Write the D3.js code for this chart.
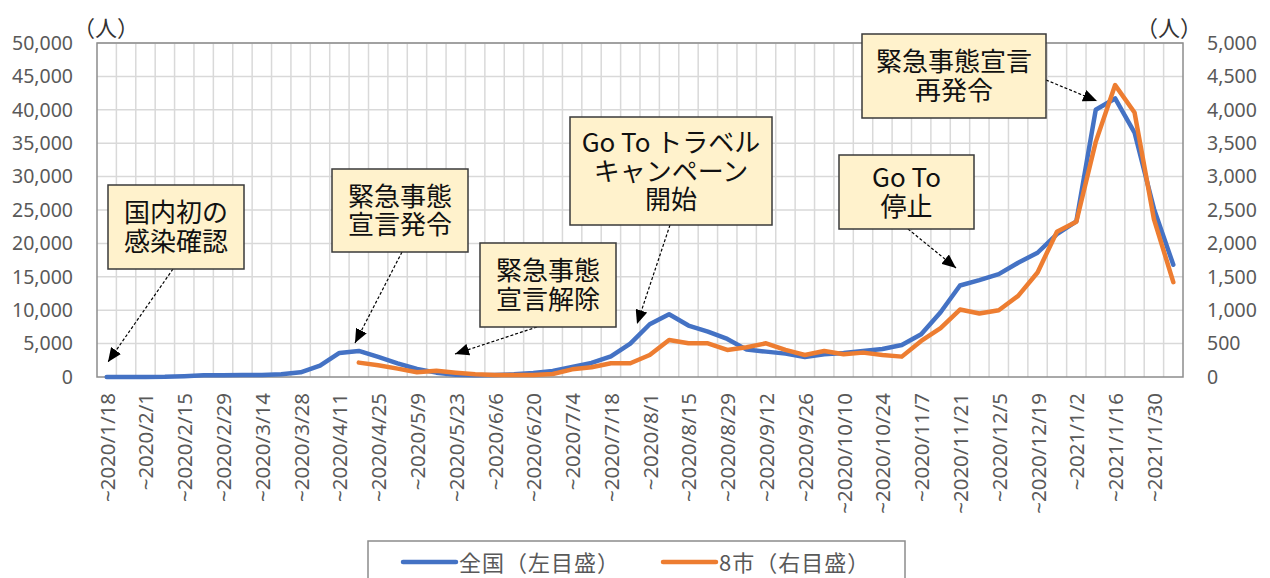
<!DOCTYPE html>
<html lang="ja">
<head>
<meta charset="utf-8">
<script src="https://cdn.jsdelivr.net/npm/d3@7"></script>
<style>
  html, body { margin: 0; padding: 0; background: #fff; }
  svg { display: block; }
</style>
</head>
<body>
<svg id="chart" width="1270" height="578"></svg>
<script>
// Weekly new cases: nationwide (left axis) and the 8 cities (right axis)
const categories = [
  "~2020/1/18","~2020/1/25","~2020/2/1","~2020/2/8","~2020/2/15","~2020/2/22","~2020/2/29",
  "~2020/3/7","~2020/3/14","~2020/3/21","~2020/3/28","~2020/4/4","~2020/4/11","~2020/4/18",
  "~2020/4/25","~2020/5/2","~2020/5/9","~2020/5/16","~2020/5/23","~2020/5/30","~2020/6/6",
  "~2020/6/13","~2020/6/20","~2020/6/27","~2020/7/4","~2020/7/11","~2020/7/18","~2020/7/25",
  "~2020/8/1","~2020/8/8","~2020/8/15","~2020/8/22","~2020/8/29","~2020/9/5","~2020/9/12",
  "~2020/9/19","~2020/9/26","~2020/10/3","~2020/10/10","~2020/10/17","~2020/10/24","~2020/10/31",
  "~2020/11/7","~2020/11/14","~2020/11/21","~2020/11/28","~2020/12/5","~2020/12/12","~2020/12/19",
  "~2020/12/26","~2021/1/2","~2021/1/9","~2021/1/16","~2021/1/23","~2021/1/30","~2021/2/6"
];

const nationwide = [
  0, 5, 10, 20, 120, 250, 280, 290, 300, 400, 700, 1700, 3600, 3900,
  3000, 2050, 1200, 650, 350, 250, 300, 400, 600, 900, 1500, 2100, 3100, 5000,
  7900, 9400, 7700, 6800, 5700, 4100, 3800, 3500, 3000, 3400, 3600, 3900, 4200, 4800,
  6400, 9700, 13700, 14500, 15400, 17100, 18600, 21400, 23300, 40000, 41700, 36600, 25200, 16800
];

const eightCities = [
  null, null, null, null, null, null, null, null, null, null, null, null, null, 215,
  175, 125, 70, 95, 65, 40, 30, 30, 30, 45, 115, 145, 205, 205,
  330, 555, 505, 505, 405, 445, 505, 405, 330, 390, 340, 365, 330, 305,
  540, 730, 1010, 950, 1000, 1215, 1565, 2175, 2325, 3520, 4370, 3960, 2365, 1420
];

const leftTicks = [0, 5000, 10000, 15000, 20000, 25000, 30000, 35000, 40000, 45000, 50000];
const rightTicks = [0, 500, 1000, 1500, 2000, 2500, 3000, 3500, 4000, 4500, 5000];

const seriesNames = ["全国（左目盛）", "8市（右目盛）"];
const seriesColors = ["#4472C4", "#ED7D31"];

// Callout boxes with their arrows
const callouts = [
  { lines: ["国内初の", "感染確認"], box: [108, 185, 136, 84], from: [173, 269], to: [108, 362] },
  { lines: ["緊急事態", "宣言発令"], box: [332, 169, 136, 83], from: [402, 252], to: [355, 343] },
  { lines: ["緊急事態", "宣言解除"], box: [480, 243, 136, 84], from: [537, 327], to: [455, 354] },
  { lines: ["Go To トラベル", "キャンペーン", "開始"], box: [570, 117, 202, 108], from: [670, 225], to: [637, 324] },
  { lines: ["Go To", "停止"], box: [839, 155, 135, 74], from: [908, 229], to: [956, 268] },
  { lines: ["緊急事態宣言", "再発令"], box: [862, 34, 184, 84], from: [1046, 80], to: [1097, 101] }
];

const svg = d3.select("#chart");
const plot = { left: 97, right: 1183, top: 43, bottom: 377 };

svg.append("rect").attr("width", 1270).attr("height", 578).attr("fill", "#fff");

const x = d3.scaleBand().domain(categories).range([plot.left, plot.right]).paddingInner(0).paddingOuter(0);
const cx = c => x(c) + x.bandwidth() / 2;
const yL = d3.scaleLinear().domain([0, 50000]).range([plot.bottom, plot.top]);
const yR = d3.scaleLinear().domain([0, 5000]).range([plot.bottom, plot.top]);

const tickFont = "'Noto Sans', 'DejaVu Sans', sans-serif";
const cjkFont = "'Noto Sans CJK JP', 'Noto Sans', sans-serif";

// gridlines
const grid = svg.append("g").attr("stroke", "#d9d9d9").attr("stroke-width", 1.5);
grid.selectAll("line.h").data(leftTicks.slice(1)).join("line")
  .attr("x1", plot.left).attr("x2", plot.right)
  .attr("y1", d => yL(d)).attr("y2", d => yL(d));
grid.selectAll("line.v").data(categories.slice(1)).join("line")
  .attr("x1", d => x(d)).attr("x2", d => x(d))
  .attr("y1", plot.top).attr("y2", plot.bottom);

// plot border
svg.append("rect")
  .attr("x", plot.left).attr("y", plot.top)
  .attr("width", plot.right - plot.left).attr("height", plot.bottom - plot.top)
  .attr("fill", "none").attr("stroke", "#8c8c8c").attr("stroke-width", 1.5);

// left axis
const axL = svg.append("g").attr("transform", `translate(${plot.left - 4},0)`)
  .call(d3.axisLeft(yL).tickValues(leftTicks).tickFormat(d3.format(",")).tickSize(0).tickPadding(20));
axL.select(".domain").remove();
axL.selectAll("text").attr("font-family", tickFont).attr("font-size", 19.5).attr("fill", "#595959");

// right axis
const axR = svg.append("g").attr("transform", `translate(${plot.right + 4},0)`)
  .call(d3.axisRight(yR).tickValues(rightTicks).tickFormat(d3.format(",")).tickSize(0).tickPadding(20));
axR.select(".domain").remove();
axR.selectAll("text").attr("font-family", tickFont).attr("font-size", 19.5).attr("fill", "#595959");

// bottom axis: every other week labelled, rotated
const axB = svg.append("g").attr("transform", `translate(0,${plot.bottom})`)
  .call(d3.axisBottom(x).tickValues(categories.filter((d, i) => i % 2 === 0)).tickSize(0).tickPadding(0));
axB.select(".domain").remove();
axB.selectAll("text")
  .attr("font-family", tickFont).attr("font-size", 20.5).attr("fill", "#595959")
  .attr("text-anchor", "end")
  .attr("dy", null).attr("y", 0)
  .attr("transform", "translate(0,16) rotate(-90)")
  .attr("dominant-baseline", "central");

// unit labels
svg.append("text").attr("x", 106).attr("y", 36).attr("text-anchor", "middle")
  .attr("font-family", cjkFont).attr("font-size", 22).attr("fill", "#333").text("（人）");
svg.append("text").attr("x", 1169).attr("y", 36).attr("text-anchor", "middle")
  .attr("font-family", cjkFont).attr("font-size", 22).attr("fill", "#333").text("（人）");

// series lines
const lineL = d3.line().x((d, i) => cx(categories[i])).y(d => yL(d));
const lineR = d3.line().defined(d => d !== null).x((d, i) => cx(categories[i])).y(d => yR(d));

svg.append("path").datum(nationwide).attr("d", lineL)
  .attr("fill", "none").attr("stroke", seriesColors[0]).attr("stroke-width", 4.5)
  .attr("stroke-linejoin", "round").attr("stroke-linecap", "round");
svg.append("path").datum(eightCities).attr("d", lineR)
  .attr("fill", "none").attr("stroke", seriesColors[1]).attr("stroke-width", 4.5)
  .attr("stroke-linejoin", "round").attr("stroke-linecap", "round");

// arrowhead
svg.append("defs").append("marker")
  .attr("id", "tri").attr("viewBox", "0 0 14 12")
  .attr("refX", 14).attr("refY", 6)
  .attr("markerWidth", 14).attr("markerHeight", 12)
  .attr("markerUnits", "userSpaceOnUse").attr("orient", "auto")
  .append("path").attr("d", "M0,0 L14,6 L0,12 Z").attr("fill", "#000");

// callouts: one text element per box, lines as tspans
const cg = svg.append("g");
callouts.forEach(c => {
  cg.append("line")
    .attr("x1", c.from[0]).attr("y1", c.from[1]).attr("x2", c.to[0]).attr("y2", c.to[1])
    .attr("stroke", "#000").attr("stroke-width", 1.2).attr("stroke-dasharray", "3,2")
    .attr("marker-end", "url(#tri)");
  const [bx, by, bw, bh] = c.box;
  cg.append("rect").attr("x", bx).attr("y", by).attr("width", bw).attr("height", bh)
    .attr("fill", "#FFF2CC").attr("stroke", "#3a3a3a").attr("stroke-width", 1.5);
  const lh = 28.5;
  const mid = by + bh / 2;
  const t = cg.append("text")
    .attr("text-anchor", "middle")
    .attr("font-family", cjkFont).attr("font-size", 26).attr("fill", "#111");
  c.lines.forEach((s, k) => {
    t.append("tspan")
      .attr("x", bx + bw / 2)
      .attr("y", mid + (k - (c.lines.length - 1) / 2) * lh + 9.5)
      .text(s);
  });
});

// legend
const lg = svg.append("g");
lg.append("rect").attr("x", 368).attr("y", 541).attr("width", 537).attr("height", 60)
  .attr("fill", "none").attr("stroke", "#8c8c8c").attr("stroke-width", 1.5);
const legendItems = [
  { name: seriesNames[0], color: seriesColors[0], x0: 403 },
  { name: seriesNames[1], color: seriesColors[1], x0: 663 }
];
legendItems.forEach(it => {
  lg.append("line").attr("x1", it.x0).attr("x2", it.x0 + 53).attr("y1", 562).attr("y2", 562)
    .attr("stroke", it.color).attr("stroke-width", 4.5).attr("stroke-linecap", "round");
  lg.append("text").attr("x", it.x0 + 56).attr("y", 561).attr("dominant-baseline", "central")
    .attr("font-family", cjkFont).attr("font-size", 22).attr("letter-spacing", 1)
    .attr("fill", "#595959").text(it.name);
});
</script>
</body>
</html>
